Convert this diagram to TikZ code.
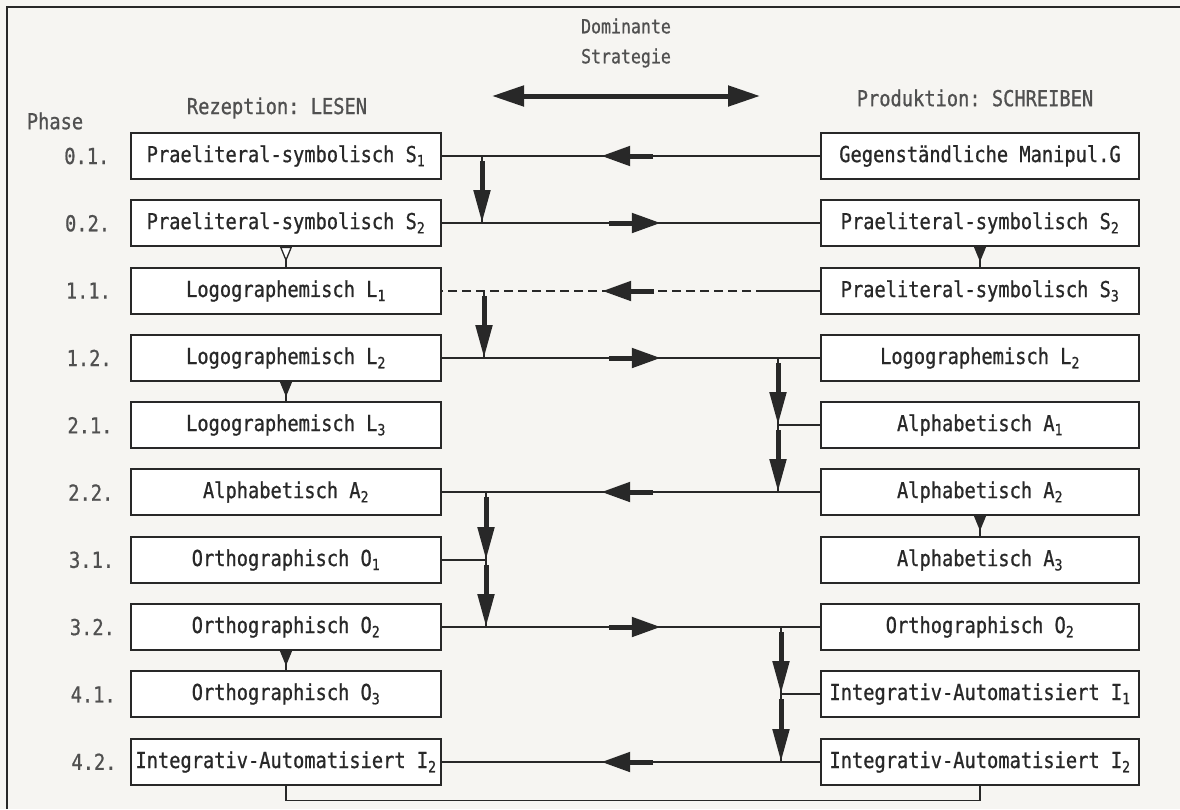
\documentclass[tikz,border=0pt]{standalone}
\usepackage{fontspec}
\setmonofont{DejaVu Sans Mono}[FakeStretch=0.85, FakeBold=0.8]
\usepackage{tikz}
\usetikzlibrary{positioning}
\usetikzlibrary{arrows.meta}
\usetikzlibrary{decorations.markings}

\definecolor{ink}{RGB}{40,40,40}
\definecolor{paper}{RGB}{246,245,242}
\definecolor{headink}{RGB}{80,80,80}
\newcommand{\boxfont}{\ttfamily\fontsize{22}{30}\selectfont}
\newcommand{\domfont}{\ttfamily\fontsize{19.5}{30}\selectfont}

\tikzset{
  box/.style={draw=ink, line width=1.6pt, fill=white, minimum width=310pt,
    minimum height=46pt, inner sep=0pt, font=\boxfont, text=ink},
  rbox/.style={box, minimum width=318pt},
  head/.style={font=\boxfont, text=headink, align=center, inner sep=0pt},
  phase/.style={head},
  flow/.style={draw=ink, line width=1.3pt},
  fat/.style={draw=ink, solid, line width=5pt, -{Triangle[length=29pt,width=19pt]}},
  fatdown/.style={draw=ink, line width=5pt, -{Triangle[length=33pt,width=16pt]}, shorten <=5pt},
  mid/.style={flow, postaction={decorate}, decoration={markings,
    mark=at position #1 with {\draw[fat] (-52pt,0) -- (0,0);}}},
  mid/.default=219pt,
  notch/.style={flow, postaction={decorate}, decoration={markings,
    mark=at position 15pt with {\arrow[ink]{Triangle[length=15pt,width=12pt,#1]}}}},
  notch/.default={fill=ink},
}

\begin{document}
\begin{tikzpicture}[x=1pt, y=-1pt]
  \fill[paper] (0,0) rectangle (1180,809);
  \useasboundingbox (0,0) rectangle (1180,809);
  \draw[ink, line width=2pt] (7,809) -- (7,7) -- (1180,7);

  % Kopfzeile
  \node[head, font=\domfont] (dom) at (626,43) {Dominante\\Strategie};
  \coordinate (dl) at (492,96);
  \coordinate (dr) at (760,96);
  \draw[draw=ink, line width=5pt, {Triangle[length=32pt,width=20pt]}-{Triangle[length=32pt,width=20pt]}] (dl) -- (dr);
  \node[head] (phase) at (55,121) {Phase};
  \node[head] (lesen) at (277,108) {Rezeption: LESEN};
  \node[head] (schreiben) at (975,98) {Produktion: SCHREIBEN};

  \foreach \ph [count=\i] in {0.1.,0.2.,1.1.,1.2.,2.1.,2.2.,3.1.,3.2.,4.1.,4.2.}
    \node[phase] (ph\i) at ({86+\i*0.8},{88.7+67.3*\i}) {\ph};

  % Rezeption
  \node[box] (s1l) at (286,156) {Praeliteral-symbolisch S\textsubscript{1}};
  \node[box] (s2l) at (286,223) {Praeliteral-symbolisch S\textsubscript{2}};
  \node[box] (l1l) at (286,291) {Logographemisch L\textsubscript{1}};
  \node[box] (l2l) at (286,358) {Logographemisch L\textsubscript{2}};
  \node[box] (l3l) at (286,425) {Logographemisch L\textsubscript{3}};
  \node[box] (a2l) at (286,492) {Alphabetisch A\textsubscript{2}};
  \node[box] (o1l) at (286,560) {Orthographisch O\textsubscript{1}};
  \node[box] (o2l) at (286,627) {Orthographisch O\textsubscript{2}};
  \node[box] (o3l) at (286,694) {Orthographisch O\textsubscript{3}};
  \node[box] (i2l) at (286,762) {Integrativ-Automatisiert I\textsubscript{2}};

  % Produktion
  \node[rbox] (g)   at (980,156) {Gegenständliche Manipul.G};
  \node[rbox] (s2r) at (980,223) {Praeliteral-symbolisch S\textsubscript{2}};
  \node[rbox] (s3r) at (980,291) {Praeliteral-symbolisch S\textsubscript{3}};
  \node[rbox] (l2r) at (980,358) {Logographemisch L\textsubscript{2}};
  \node[rbox] (a1r) at (980,425) {Alphabetisch A\textsubscript{1}};
  \node[rbox] (a2r) at (980,492) {Alphabetisch A\textsubscript{2}};
  \node[rbox] (a3r) at (980,560) {Alphabetisch A\textsubscript{3}};
  \node[rbox] (o2r) at (980,627) {Orthographisch O\textsubscript{2}};
  \node[rbox] (i1r) at (980,694) {Integrativ-Automatisiert I\textsubscript{1}};
  \node[rbox] (i2r) at (980,762) {Integrativ-Automatisiert I\textsubscript{2}};

  % Querverbindungen
  \draw[mid] (g.west) -- (s1l.east);
  \draw[mid] (s2l.east) -- (s2r.west);
  \draw[flow] (s3r.west) -- ++(-55,0) coordinate (cut);
  \draw[mid=163pt, dash pattern=on 9pt off 5pt] (cut) -- (l1l.east);
  \draw[mid] (l2l.east) -- (l2r.west);
  \draw[mid] (a2r.west) -- (a2l.east);
  \draw[mid] (o2l.east) -- (o2r.west);
  \draw[mid] (i2r.west) -- (i2l.east);
  \draw[flow] (i2l.south) -- ++(0,15) -| (i2r.south);

  % innerhalb der Spalten
  \draw[notch={fill=white}] (s2l.south) -- (l1l.north);
  \draw[notch] (l2l.south) -- (l3l.north);
  \draw[notch] (o2l.south) -- (o3l.north);
  \draw[notch] (s2r.south) -- (s3r.north);
  \draw[notch] (a2r.south) -- (a3r.north);

  % senkrechte Pfeile
  \coordinate (xa) at (482,0);
  \coordinate (xb) at (484,0);
  \coordinate (xc) at (778,0);
  \coordinate (xd) at (486,0);
  \coordinate (xe) at (781,0);
  \draw[flow] (s1l.east -| xa) -- (s2l.east -| xa);
  \draw[fatdown] (s1l.east -| xa) -- (s2l.east -| xa);
  \draw[flow] (l1l.east -| xb) -- (l2l.east -| xb);
  \draw[fatdown] (l1l.east -| xb) -- (l2l.east -| xb);
  \draw[flow] (l2r.west -| xc) -- (a2r.west -| xc);
  \draw[flow] (a1r.west) -- (a1r.west -| xc);
  \draw[fatdown] (l2r.west -| xc) -- (a1r.west -| xc);
  \draw[fatdown] (a1r.west -| xc) -- (a2r.west -| xc);
  \draw[flow] (a2l.east -| xd) -- (o2l.east -| xd);
  \draw[flow] (o1l.east) -- (o1l.east -| xd);
  \draw[fatdown] (a2l.east -| xd) -- (o1l.east -| xd);
  \draw[fatdown] (o1l.east -| xd) -- (o2l.east -| xd);
  \draw[flow] (o2r.west -| xe) -- (i2r.west -| xe);
  \draw[flow] (i1r.west) -- (i1r.west -| xe);
  \draw[fatdown] (o2r.west -| xe) -- (i1r.west -| xe);
  \draw[fatdown] (i1r.west -| xe) -- (i2r.west -| xe);
\end{tikzpicture}
\end{document}
